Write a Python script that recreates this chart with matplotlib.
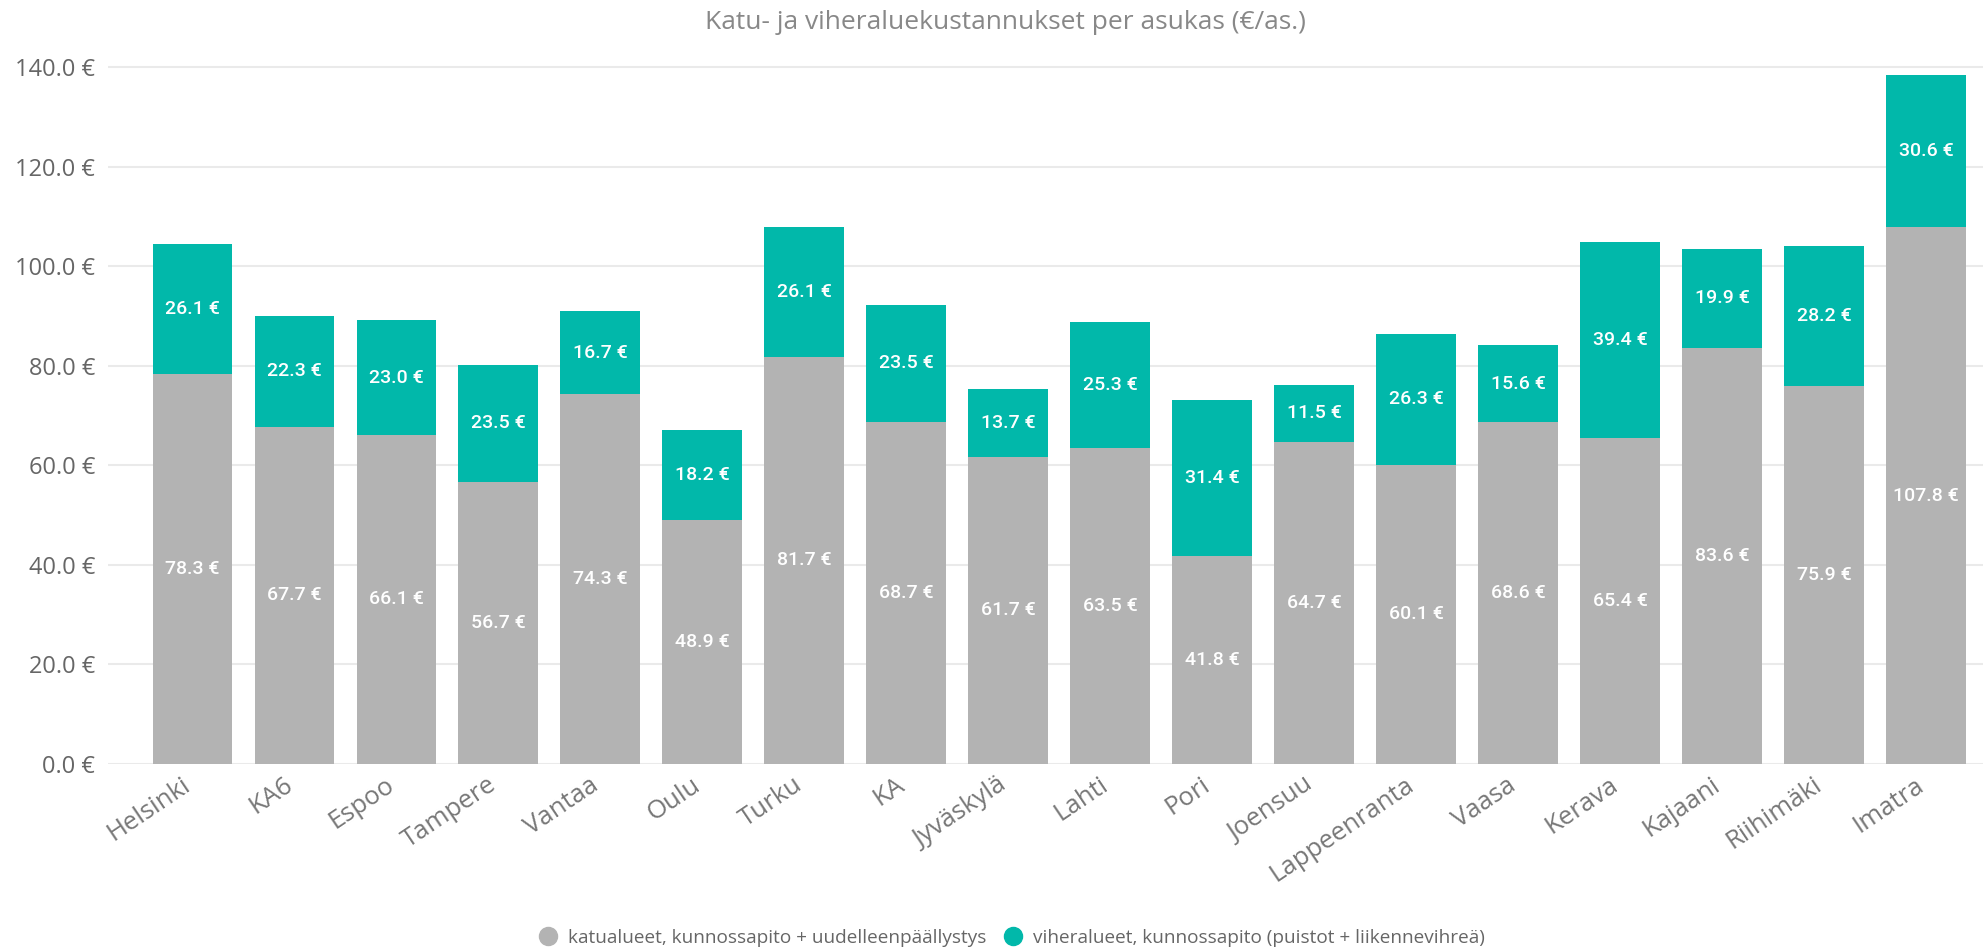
import numpy as np
import matplotlib.pyplot as plt
from matplotlib.lines import Line2D
from matplotlib.ticker import FuncFormatter
import matplotlib.transforms as mtransforms

# Tiedot
kunnat = ["Helsinki", "KA6", "Espoo", "Tampere", "Vantaa", "Oulu", "Turku", "KA",
          "Jyväskylä", "Lahti", "Pori", "Joensuu", "Lappeenranta", "Vaasa", "Kerava",
          "Kajaani", "Riihimäki", "Imatra"]
katu = [78.3, 67.7, 66.1, 56.7, 74.3, 48.9, 81.7, 68.7, 61.7, 63.5, 41.8, 64.7,
        60.1, 68.6, 65.4, 83.6, 75.9, 107.8]
viher = [26.1, 22.3, 23.0, 23.5, 16.7, 18.2, 26.1, 23.5, 13.7, 25.3, 31.4, 11.5,
         26.3, 15.6, 39.4, 19.9, 28.2, 30.6]
sarjat = ["katualueet, kunnossapito + uudelleenpäällystys",
          "viheralueet, kunnossapito (puistot + liikennevihreä)"]

harmaa = "#B3B3B3"
vihrea = "#01B8AA"

plt.rcParams['font.family'] = ['Open Sans', 'DejaVu Sans']

fig = plt.figure(figsize=(19.87, 9.51), dpi=100)
ax = fig.add_axes([0.0542, 0.197, 0.9438, 0.7427])

x = np.arange(len(kunnat))
ax.bar(x, katu, width=0.78, color=harmaa, zorder=2)
ax.bar(x, viher, width=0.78, bottom=katu, color=vihrea, zorder=2)

# arvot palkkien keskelle
for i in range(len(x)):
    ax.text(x[i], katu[i] / 2, f"{katu[i]:.1f} €", ha="center", va="center",
            color="white", fontsize=14, fontweight="medium", family="Roboto")
    ax.text(x[i], katu[i] + viher[i] / 2, f"{viher[i]:.1f} €", ha="center", va="center",
            color="white", fontsize=14, fontweight="medium", family="Roboto")

ax.set_xlim(-0.83, 17.56)
ax.set_ylim(0, 142)
ax.set_yticks(np.arange(0, 141, 20))
ax.yaxis.set_major_formatter(FuncFormatter(lambda v, p: f"{v:.1f} €"))
ax.grid(axis="y", color="#EAEAEA", linewidth=1.5, zorder=0)
for s in ax.spines.values():
    s.set_visible(False)
ax.tick_params(axis="both", length=0, labelsize=17, labelcolor="#666666")
ax.tick_params(axis="y", pad=9)

ax.set_xticks(x)
ax.set_xticklabels(kunnat, fontsize=18.5, color="#777777")
offset = mtransforms.ScaledTranslation(-0.11, -0.04, fig.dpi_scale_trans)
for lab in ax.get_xticklabels():
    lab.set_rotation(34)
    lab.set_ha("right")
    lab.set_rotation_mode("anchor")
    lab.set_transform(lab.get_transform() + offset)

fig.text(0.506, 0.976, "Katu- ja viheraluekustannukset per asukas (€/as.)",
         ha="center", va="center", fontsize=19, color="#888888")

kahvat = [Line2D([], [], marker="o", linestyle="", color=harmaa, markersize=13),
          Line2D([], [], marker="o", linestyle="", color=vihrea, markersize=13)]
fig.legend(kahvat, sarjat, loc="center", bbox_to_anchor=(0.507, 0.014), ncol=2,
           frameon=False, fontsize=13.7, labelcolor="#666666", handletextpad=0.05,
           columnspacing=0.4)

plt.savefig("out.png", dpi=100)
